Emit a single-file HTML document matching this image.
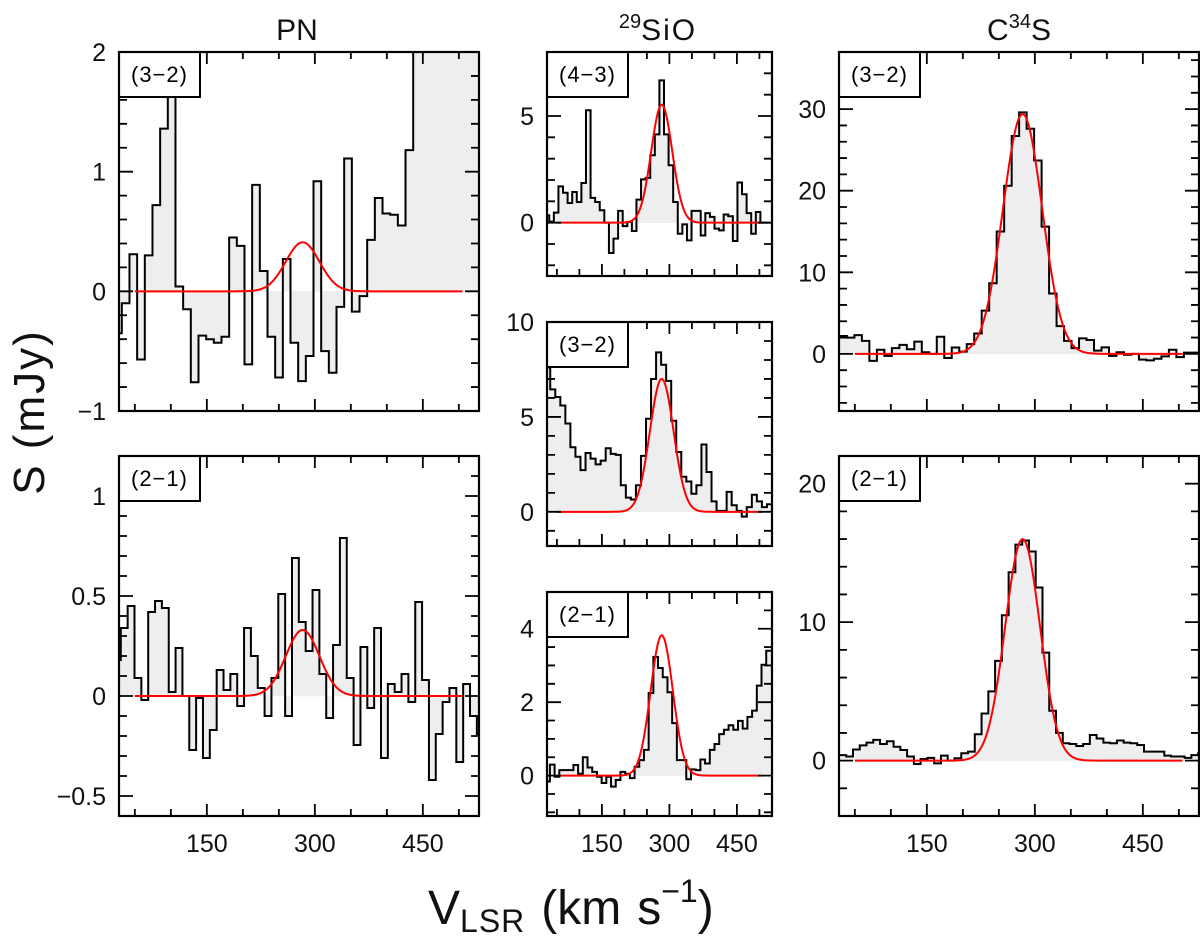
<!DOCTYPE html>
<html><head><meta charset="utf-8"><style>
html,body{margin:0;padding:0;background:#fff;}
svg{display:block;font-family:"Liberation Sans",sans-serif;}
</style></head><body>
<svg id="fig" width="1200" height="939" viewBox="0 0 1200 939" xmlns="http://www.w3.org/2000/svg">
<text x="297" y="40" font-size="30" text-anchor="middle" fill="#111">PN</text>
<text x="658" y="40" font-size="30" text-anchor="middle" fill="#111"><tspan font-size="20" dy="-12">29</tspan><tspan dy="12" letter-spacing="2">SiO</tspan></text>
<text x="1019" y="40" font-size="30" text-anchor="middle" fill="#111">C<tspan font-size="20" dy="-12">34</tspan><tspan dy="12">S</tspan></text>
<text transform="translate(44,412) rotate(-90)" font-size="44" text-anchor="middle" fill="#111" letter-spacing="2">S  (mJy)</text>
<text x="428" y="924" font-size="48" fill="#111">V<tspan font-size="32" dy="8" letter-spacing="1">LSR</tspan><tspan dy="-8" dx="16">(km</tspan><tspan dx="16">s</tspan><tspan font-size="32" dy="-22">−1</tspan><tspan dy="22">)</tspan></text>
</svg>
<script>
// ---- data (velocity in km/s, flux in mJy) ----
const xTicks = [150, 300, 450];
const fitCenter = 283;
const fitRange = [50, 505];

const pnTopV0 = 21.25, pnTopDv = 10.65;
const pnTopVals = [-0.35,-0.10,0.31,-0.57,0.30,0.72,1.36,1.8,0.04,-0.15,-0.76,-0.37,-0.40,-0.43,-0.38,0.45,0.38,-0.61,0.89,0.17,-0.38,-0.72,0.27,-0.43,-0.75,-0.54,0.92,-0.50,-0.68,-0.13,1.11,-0.17,-0.04,0.43,0.78,0.65,0.64,0.55,1.18,2.5,2.5,2.5,2.5,2.5,2.5,2.5,2.5,2.5,2.5];
const pnTopFit = [0.41, 55];
const pnTopTicks = [2, 1, 0, -1];

const pnBotV0 = 21.0, pnBotDv = 9.51;
const pnBotVals = [0.18,0.34,0.45,0.09,-0.02,0.42,0.475,0.44,0.02,0.24,0.0,-0.27,-0.01,-0.31,-0.17,0.13,0.03,0.11,-0.05,0.34,0.20,0.04,-0.10,0.09,0.51,-0.10,0.69,0.37,0.225,0.53,0.11,-0.11,0.255,0.79,0.09,-0.245,0.245,-0.06,0.34,-0.31,0.06,0.02,0.11,-0.03,0.47,0.08,-0.42,-0.19,-0.03,0.04,-0.33,0.06,-0.10,-0.19];
const pnBotFit = [0.33, 55];
const pnBotTicks = [1, 0.5, 0, -0.5];

const sioTopV0 = 22.8, sioTopDv = 10.2;
const sioTopVals = [0.34,0.05,0.47,1.7,1.4,0.92,1.44,0.97,1.86,5.27,1.16,0.97,0.58,0,-1.42,-0.75,0.55,-0.16,0.03,-0.39,1.08,2.03,2.1,3.16,4.14,6.67,4.14,2.69,0.97,-0.52,-0.08,-0.83,0.55,0.55,-0.6,0.45,0.27,-0.28,-0.36,0.38,0.3,-0.86,1.88,1.33,0.45,-0.52,0.5,0.0,0.0];
const sioTopFit = [5.53, 55];
const sioTopTicks = [5, 0];

const sioMidV0 = 24, sioMidDv = 11.2;
const sioMidVals = [7.6,6.45,6.05,5.6,4.65,3.4,2.9,2.2,3.1,2.8,2.5,2.7,3.35,3.05,3.0,1.4,0.75,0.65,1.4,2.95,4.9,7.0,8.4,7.75,6.9,4.8,3.15,1.85,1.6,0.95,1.4,3.55,2.1,0.55,0.05,0.05,1.05,0.35,0.05,-0.25,0.25,0.9,0.55,0.25,0.4];
const sioMidFit = [7.0, 62];
const sioMidTicks = [10, 5, 0];

const sioBotV0 = 24, sioBotDv = 10.45;
const sioBotVals = [-0.16,0.3,-0.03,0.15,0.15,0.15,0.29,0.05,0.5,0.22,0.1,-0.03,-0.2,-0.03,-0.3,-0.12,0.1,0.05,-0.07,0.24,0.42,0.7,2.25,3.23,2.93,2.68,2.27,1.43,0.42,0.42,-0.1,0.17,0.15,0.44,0.33,0.7,0.86,1.13,1.25,1.37,1.25,1.49,1.28,1.6,1.77,2.45,3.02,3.4];
const sioBotFit = [3.82, 58];
const sioBotTicks = [4, 2, 0];

const csTopV0 = 28.6, csTopDv = 10.4;
const csTopVals = [2.2,2.0,2.3,1.6,-0.86,0.5,-0.25,0.7,1.1,0.57,1.5,0.2,0,2.1,-0.5,0.78,0.28,1.2,2.5,5.3,8.65,15.0,20.6,26.7,29.6,27.6,23.7,15.6,7.4,3.4,1.6,0.7,1.9,1.7,0.4,0.8,-0.25,0.2,-0.1,0,-0.7,-0.8,-0.6,-0.3,0.5,-0.4,0.15,0.15];
const csTopFit = [29.4, 64];
const csTopTicks = [30, 20, 10, 0];

const csBotV0 = 28.6, csBotDv = 9.4;
const csBotVals = [0.4,0.3,0.8,1.1,1.3,1.5,1.2,1.4,1.0,0.77,0.3,-0.24,0.12,0.2,-0.2,0.36,0,0.17,0.53,0.65,1.9,3.4,5.0,7.2,10.5,13.6,15.6,15.9,15.1,12.5,7.8,3.6,2.0,1.25,1.2,1.06,1.2,1.85,1.6,1.3,1.25,1.45,1.3,1.25,1.13,0.65,0.65,0.65,0.36,0.3,0.3,0.2,0.4,0.53];
const csBotFit = [16.0, 57];
const csBotTicks = [20, 10, 0];

// ---- layout ----
const NS = "http://www.w3.org/2000/svg";
const svg = document.getElementById('fig');
function mk(tag, attrs, parent) {
  const e = document.createElementNS(NS, tag);
  for (const k in attrs) e.setAttribute(k, attrs[k]);
  (parent || svg).appendChild(e);
  return e;
}
const panels = [
  {id:'pn-32', x0:119, x1:479, y0:52, y1:411, ymin:-1, ymax:2, major:1, minor:0.2, lab:'(3−2)', xl:false, v0:pnTopV0, dv:pnTopDv, vals:pnTopVals, fit:pnTopFit, ticks:pnTopTicks},
  {id:'pn-21', x0:119, x1:479, y0:456, y1:816, ymin:-0.6, ymax:1.2, major:0.5, minor:0.1, lab:'(2−1)', xl:true, v0:pnBotV0, dv:pnBotDv, vals:pnBotVals, fit:pnBotFit, ticks:pnBotTicks},
  {id:'sio-43', x0:547, x1:772, y0:52, y1:276, ymin:-2.5, ymax:8, major:5, minor:1, lab:'(4−3)', xl:false, v0:sioTopV0, dv:sioTopDv, vals:sioTopVals, fit:sioTopFit, ticks:sioTopTicks},
  {id:'sio-32', x0:547, x1:772, y0:322, y1:546, ymin:-1.8, ymax:10, major:5, minor:1, lab:'(3−2)', xl:false, v0:sioMidV0, dv:sioMidDv, vals:sioMidVals, fit:sioMidFit, ticks:sioMidTicks},
  {id:'sio-21', x0:547, x1:772, y0:592, y1:816, ymin:-1.1, ymax:5, major:2, minor:0.5, lab:'(2−1)', xl:true, v0:sioBotV0, dv:sioBotDv, vals:sioBotVals, fit:sioBotFit, ticks:sioBotTicks},
  {id:'c34s-32', x0:839, x1:1199, y0:52, y1:411, ymin:-7, ymax:37, major:10, minor:2, lab:'(3−2)', xl:false, v0:csTopV0, dv:csTopDv, vals:csTopVals, fit:csTopFit, ticks:csTopTicks},
  {id:'c34s-21', x0:839, x1:1199, y0:456, y1:816, ymin:-4, ymax:22, major:10, minor:2, lab:'(2−1)', xl:true, v0:csBotV0, dv:csBotDv, vals:csBotVals, fit:csBotFit, ticks:csBotTicks}
];
const VMIN = 28, VMAX = 528;
const fmt = v => (v < 0 ? '−' + String(-v) : String(v));

panels.forEach((p, pi) => {
  const X = v => p.x0 + (v - VMIN) / (VMAX - VMIN) * (p.x1 - p.x0);
  const Y = s => p.y1 - (s - p.ymin) / (p.ymax - p.ymin) * (p.y1 - p.y0);
  const g = mk('g', {});
  
  
  const cp = mk('clipPath', {id: 'cp' + pi}, g);
  mk('rect', {x: p.x0, y: p.y0, width: p.x1 - p.x0, height: p.y1 - p.y0}, cp);
  const inner = mk('g', {'clip-path': 'url(#cp' + pi + ')'}, g);
  let d = '', fillD = '';
  const y0 = Y(0);
  p.vals.forEach((s, i) => {
    const xa = X(p.v0 + i * p.dv), xb = X(p.v0 + (i + 1) * p.dv), ys = Y(s);
    d += (i === 0 ? 'M' + xa.toFixed(2) + ' ' + ys.toFixed(2) : 'V' + ys.toFixed(2)) + 'H' + xb.toFixed(2);
    fillD += 'M' + xa.toFixed(2) + ' ' + y0.toFixed(2) + 'V' + ys.toFixed(2) + 'H' + xb.toFixed(2) + 'V' + y0.toFixed(2) + 'Z';
  });
  const fill = mk('path', {d: fillD, fill: '#eeeeee', stroke: '#eeeeee', 'stroke-width': 0.6}, inner);
  
  
  const hist = mk('path', {d: d, fill: 'none', stroke: '#000', 'stroke-width': 2}, inner);
  
  
  const amp = p.fit[0], sig = p.fit[1] / 2.3548;
  let fd = '';
  for (let v = fitRange[0]; v <= fitRange[1]; v += 1) {
    const s = amp * Math.exp(-0.5 * Math.pow((v - fitCenter) / sig, 2));
    fd += (v === fitRange[0] ? 'M' : 'L') + X(v).toFixed(2) + ' ' + Y(s).toFixed(2);
  }
  const fitEl = mk('path', {d: fd, fill: 'none', stroke: '#ff0000', 'stroke-width': 2}, inner);
  
  
  let td = '';
  for (let v = 50; v < VMAX; v += 50) {
    const L = (v % 150 === 0) ? 12 : 7, x = X(v);
    td += 'M' + x + ' ' + p.y1 + 'v' + (-L) + 'M' + x + ' ' + p.y0 + 'v' + L;
  }
  const n0 = Math.ceil(p.ymin / p.minor - 1e-6), n1 = Math.floor(p.ymax / p.minor + 1e-6);
  for (let n = n0; n <= n1; n++) {
    const s = n * p.minor;
    const isMaj = Math.abs(s / p.major - Math.round(s / p.major)) < 1e-6;
    const L = isMaj ? 14 : 8, y = Y(s);
    td += 'M' + p.x0 + ' ' + y + 'h' + L + 'M' + p.x1 + ' ' + y + 'h' + (-L);
  }
  const tk = mk('path', {d: td, stroke: '#000', 'stroke-width': 1.8, fill: 'none'}, g);
  
  
  const lb = mk('rect', {x: p.x0, y: p.y0, width: 81, height: 45, fill: '#fff', stroke: '#000', 'stroke-width': 2}, g);
  
  
  const lt = mk('text', {x: p.x0 + 40.5, y: p.y0 + 30, 'font-size': 22, 'text-anchor': 'middle', fill: '#000', 'letter-spacing': 1}, g);
  lt.textContent = p.lab;
  
  
  const fr = mk('rect', {x: p.x0, y: p.y0, width: p.x1 - p.x0, height: p.y1 - p.y0, fill: 'none', stroke: '#000', 'stroke-width': 2.2}, g);
  
  
  p.ticks.forEach(s => {
    const t = mk('text', {x: p.x0 - 13, y: Y(s) + 9, 'font-size': 25, 'text-anchor': 'end', fill: '#111'}, g);
    t.textContent = fmt(s);
    
    
  });
  if (p.xl) {
    xTicks.forEach(v => {
      const t = mk('text', {x: X(v), y: p.y1 + 36, 'font-size': 25, 'text-anchor': 'middle', fill: '#111'}, g);
      t.textContent = String(v);
      
      
    });
  }
});
</script>
</body></html>
